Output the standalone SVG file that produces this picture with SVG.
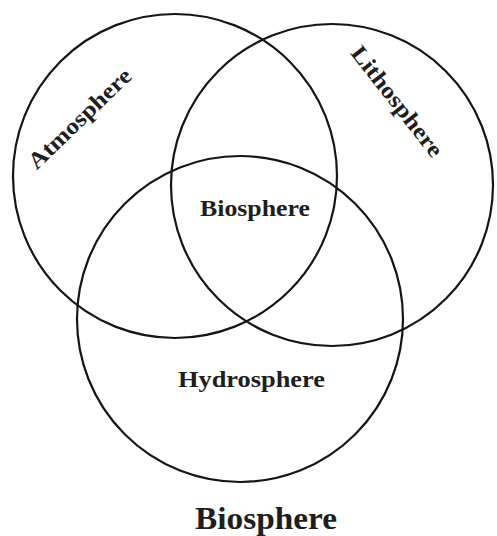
<svg xmlns="http://www.w3.org/2000/svg" width="497" height="536" viewBox="0 0 497 536">
<style>
.c{fill:none;stroke:#151515;stroke-width:2.2}
.t{font-family:"Liberation Serif","Times New Roman",serif;font-weight:bold;fill:#1e1e1e;text-anchor:middle}
</style>
<rect width="497" height="536" fill="#ffffff"/>
<g id="connectors"></g>
<g id="atmosphere">
<circle class="c" cx="175" cy="176" r="162"/>
<text class="t" font-size="23" transform="translate(85,124) rotate(-44)" textLength="134" lengthAdjust="spacingAndGlyphs">Atmosphere</text>
</g>
<g id="lithosphere">
<circle class="c" cx="332" cy="185" r="161"/>
<text class="t" font-size="23" transform="translate(391,106) rotate(52)" textLength="134" lengthAdjust="spacingAndGlyphs">Lithosphere</text>
</g>
<g id="hydrosphere">
<circle class="c" cx="240" cy="319" r="163"/>
<text class="t" font-size="23" x="251.5" y="387" textLength="147" lengthAdjust="spacingAndGlyphs">Hydrosphere</text>
</g>
<g id="biosphere-center">
<text class="t" font-size="23" x="255" y="216" textLength="110" lengthAdjust="spacingAndGlyphs">Biosphere</text>
</g>
<g id="title">
<text class="t" font-size="31" x="266" y="529" textLength="142" lengthAdjust="spacingAndGlyphs">Biosphere</text>
</g>
</svg>
